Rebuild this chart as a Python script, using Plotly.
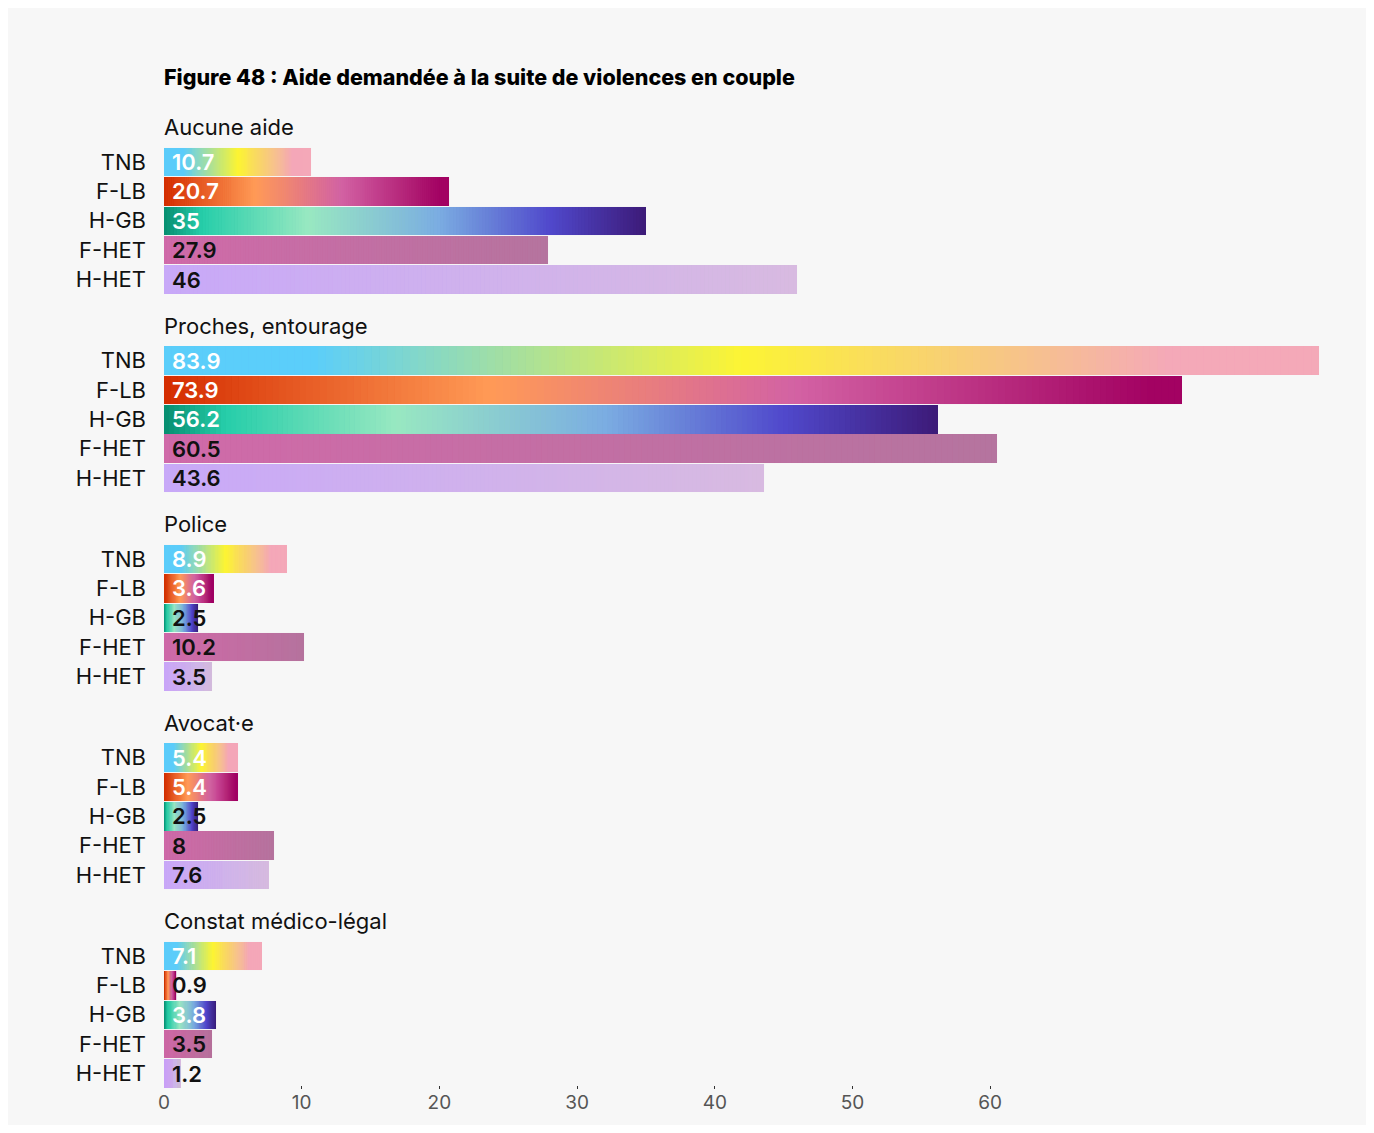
import plotly.graph_objects as go

# ---------------- data ----------------
title = "Figure 48 : Aide demandée à la suite de violences en couple"
groups = ["Aucune aide", "Proches, entourage", "Police", "Avocat·e", "Constat médico-légal"]
series = ["TNB", "F-LB", "H-GB", "F-HET", "H-HET"]

aucune_aide = [10.7, 20.7, 35, 27.9, 46]
proches = [83.9, 73.9, 56.2, 60.5, 43.6]
police = [8.9, 3.6, 2.5, 10.2, 3.5]
avocat = [5.4, 5.4, 2.5, 8, 7.6]
constat = [7.1, 0.9, 3.8, 3.5, 1.2]
values = [aucune_aide, proches, police, avocat, constat]

x_ticks = [0, 10, 20, 30, 40, 50, 60]

# ---------------- styles ----------------
gradients = {
    "TNB": [(0, "#5BCEFA"), (0.13, "#5BCEFA"), (0.5, "#FCF434"), (0.87, "#F4A9B8"), (1, "#F4A9B8")],
    "F-LB": [(0, "#D52D00"), (0.32, "#FF9A56"), (0.62, "#D362A4"), (0.97, "#A30262"), (1, "#A30262")],
    "H-GB": [(0, "#078D70"), (0.08, "#26CEAA"), (0.30, "#98E8C1"), (0.57, "#7BADE2"), (0.80, "#5049CC"), (1, "#3D1A78")],
    "F-HET": [(0, "#D06AA9"), (1, "#B5749F")],
    "H-HET": [(0, "#C8A9F8"), (1, "#D8BAE1")],
}
white_text = {"TNB", "F-LB", "H-GB"}


def hex2rgb(h):
    h = h.lstrip("#")
    return tuple(int(h[i:i + 2], 16) for i in (0, 2, 4))


def grad_color(stops, t):
    for (p0, c0), (p1, c1) in zip(stops[:-1], stops[1:]):
        if p0 <= t <= p1:
            f = 0 if p1 == p0 else (t - p0) / (p1 - p0)
            a, b = hex2rgb(c0), hex2rgb(c1)
            r = [round(a[k] + (b[k] - a[k]) * f) for k in range(3)]
            return "rgb(%d,%d,%d)" % tuple(r)
    return stops[-1][1]


W, H = 1358, 1117
M_L, M_R, M_T, M_B = 156, 8, 139, 36
plot_h = H - M_T - M_B
pitch = 198.5
band = 147.5
X_MAX = (W - M_L - M_R) / 13.77

N = 150
BG = "#F7F7F7"
FONT = "Inter"

fig = go.Figure()
annotations = []
layout_axes = {}

for g, (gname, vals) in enumerate(zip(groups, values)):
    ya = "y" if g == 0 else "y%d" % (g + 1)
    yname = "yaxis" if g == 0 else "yaxis%d" % (g + 1)
    top = 1 - (pitch * g) / plot_h
    bot = max(0, top - band / plot_h)
    layout_axes[yname] = dict(
        domain=[bot, top], type="category", categoryorder="array",
        categoryarray=series, autorange="reversed", anchor="x",
        showgrid=False, zeroline=False, showline=False, ticks="",
        ticklabelstandoff=17, automargin=False,
        tickfont=dict(family=FONT, size=22, color="#111111"),
    )
    # gradient bars: each bar is split into N stacked segments of its own length
    for i in range(N):
        t = (i + 0.5) / N
        cols = [grad_color(gradients[s], t) for s in series]
        fig.add_trace(go.Bar(
            x=[v / N for v in vals], y=series, orientation="h",
            yaxis=ya, xaxis="x",
            marker=dict(color=cols, line=dict(width=0.02, color=cols)),
            showlegend=False, hoverinfo="skip",
        ))
    # group header
    annotations.append(dict(
        text=gname, xref="paper", x=0, xshift=-2, yref=ya + " domain", y=1, yshift=20,
        xanchor="left", yanchor="middle", showarrow=False,
        font=dict(family=FONT, size=22, color="#111111"),
    ))
    # value labels
    for s, v in zip(series, vals):
        col = "#FFFFFF" if (s in white_text and v >= 3) else "#111111"
        annotations.append(dict(
            text=str(v), xref="x", x=0, yref=ya, y=s, xshift=6,
            xanchor="left", yanchor="middle", showarrow=False,
            font=dict(family=FONT, size=22, color=col, weight=600),
        ))

fig.update_layout(
    width=W, height=H,
    margin=dict(l=M_L, r=M_R, t=M_T, b=M_B),
    paper_bgcolor=BG, plot_bgcolor=BG,
    barmode="stack", bargap=0.03,
    title=dict(
        text=title, xref="paper", x=0, xanchor="left",
        yref="container", y=1 - 69 / H, yanchor="middle",
        font=dict(family=FONT, size=21.5, color="#000000", weight=800),
    ),
    xaxis=dict(
        range=[0, X_MAX], anchor="y5", tickvals=x_ticks, automargin=False,
        showgrid=False, zeroline=False, showline=False,
        ticks="inside", ticklen=3, tickwidth=1, tickcolor="#333333",
        tickfont=dict(family=FONT, size=19, color="#555555"),
    ),
    annotations=annotations,
    **layout_axes,
)

fig.write_html("out.html")
